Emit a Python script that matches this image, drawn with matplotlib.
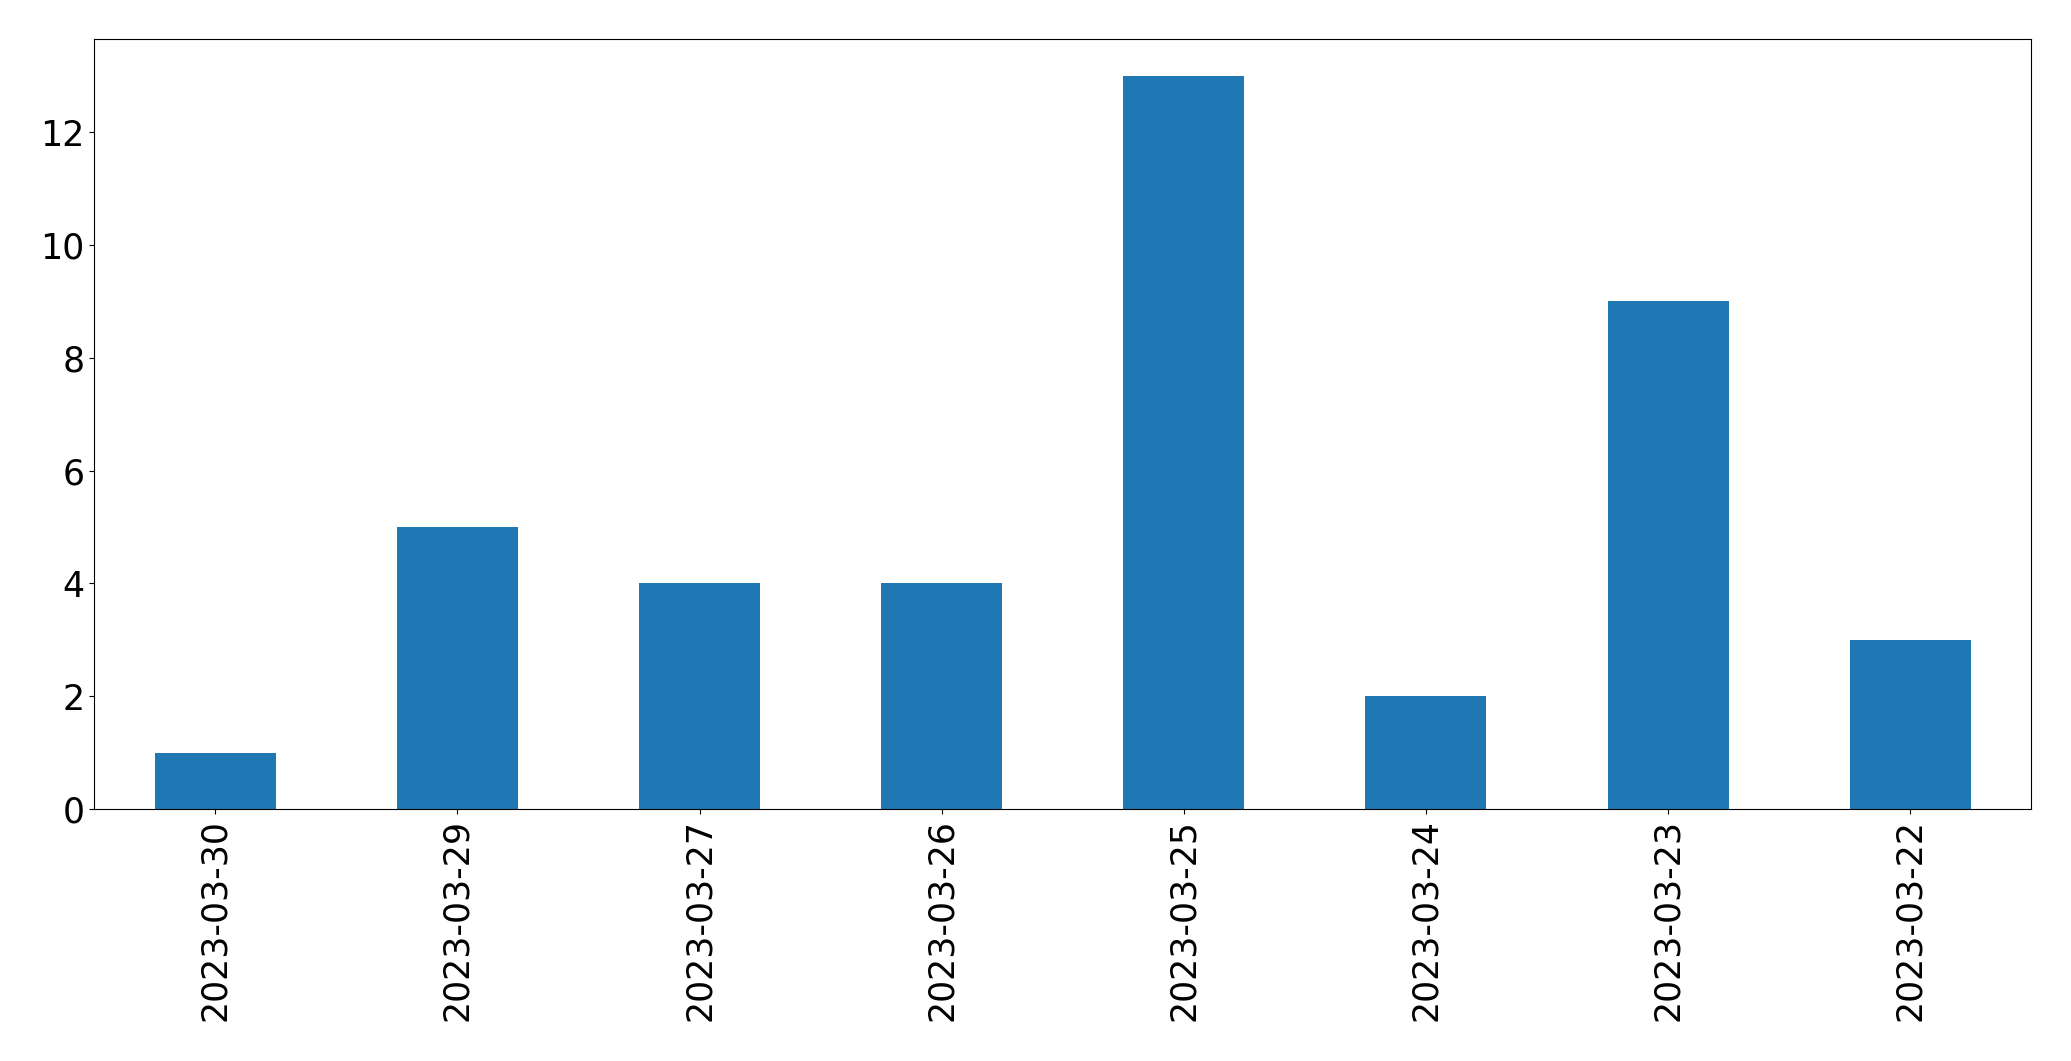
import matplotlib
matplotlib.use('Agg')
import matplotlib.pyplot as plt
import pandas as pd

# dữ liệu
dates = ['2023-03-30', '2023-03-29', '2023-03-27', '2023-03-26',
         '2023-03-25', '2023-03-24', '2023-03-23', '2023-03-22']
counts = [1, 5, 4, 4, 13, 2, 9, 3]

s = pd.Series(counts, index=dates)

fig = plt.figure(figsize=(20.71, 10.61), dpi=100)
ax = s.plot(kind='bar', color='#1f77b4', fontsize=25)
ax.set_xlabel('')
plt.subplots_adjust(left=0.0455, right=0.9808, top=0.963, bottom=0.2375)
plt.savefig('out.png', dpi=100)
